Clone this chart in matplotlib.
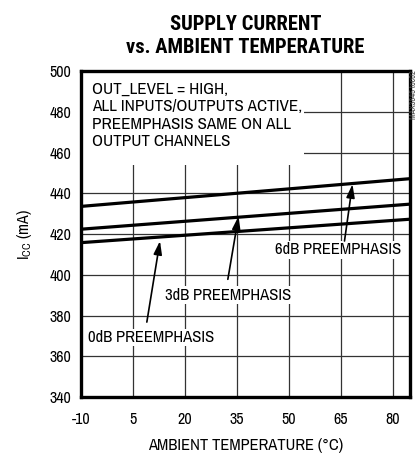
import matplotlib
matplotlib.use("Agg")
import matplotlib.pyplot as plt
from matplotlib.font_manager import fontManager

names = {f.name for f in fontManager.ttflist}


def pick(*cands):
    return [c for c in cands if c in names] + ['DejaVu Sans']


body_font = pick('Archivo Narrow', 'Liberation Sans Narrow', 'Roboto Condensed', 'Liberation Sans')
title_font = pick('Roboto Condensed', 'Fira Sans Condensed', 'Barlow Condensed', 'Archivo Narrow', 'Liberation Sans')
plt.rcParams['font.family'] = body_font
plt.rcParams['axes.unicode_minus'] = False

# Data (end points of the straight curves)
temp = [-10, 85]
icc_0db = [415.8, 427.3]
icc_3db = [422.4, 434.7]
icc_6db = [433.6, 447.2]

x_ticks = [-10, 5, 20, 35, 50, 65, 80]
y_ticks = [340, 360, 380, 400, 420, 440, 460, 480, 500]

fig = plt.figure(figsize=(4.2, 4.59), dpi=100)
ax = fig.add_axes([0.193, 0.135, 0.783, 0.710])

ax.set_xlim(-10, 85)
ax.set_ylim(340, 500)
ax.set_xticks(x_ticks)
ax.set_yticks(y_ticks)
ax.tick_params(axis='y', length=0, labelsize=11.5, pad=7)
ax.tick_params(axis='x', length=0, labelsize=11.5, pad=11)
ax.grid(True, color='#333333', linewidth=0.9)
ax.set_axisbelow(True)
for s in ax.spines.values():
    s.set_linewidth(2.4)

for y in (icc_0db, icc_3db, icc_6db):
    ax.plot(temp, y, color='black', linewidth=2.3, solid_capstyle='butt', zorder=3)

# white area behind the condition text
ax.fill_between([-10, 54.5], 454, 500, color='white', zorder=2, linewidth=0)
ax.text(-6.8, 495, 'OUT_LEVEL = HIGH,\nALL INPUTS/OUTPUTS ACTIVE,\nPREEMPHASIS SAME ON ALL\nOUTPUT CHANNELS',
        fontsize=12.3, va='top', ha='left', linespacing=1.22, zorder=4)

lbl = dict(fontsize=12, zorder=4,
           bbox=dict(facecolor='white', edgecolor='none', pad=1.0))
ax.text(-8, 369.3, '0dB PREEMPHASIS', ha='left', va='center', **lbl)
ax.text(14.2, 390.0, '3dB PREEMPHASIS', ha='left', va='center', **lbl)
ax.text(82.5, 412.3, '6dB PREEMPHASIS', ha='right', va='center', **lbl)

arrow = dict(arrowstyle='-|>,head_length=0.8,head_width=0.25', color='black',
             lw=1.2, shrinkA=0, shrinkB=0)
ax.annotate('', xy=(12.8, 416.6), xytext=(9.0, 376.8), arrowprops=arrow, zorder=5)
ax.annotate('', xy=(35.5, 428.8), xytext=(32.4, 397.8), arrowprops=arrow, zorder=5)
ax.annotate('', xy=(68.4, 444.5), xytext=(66.1, 416.6), arrowprops=arrow, zorder=5)

ax.set_xlabel('AMBIENT TEMPERATURE (\u00b0C)', fontsize=11.9, labelpad=8)
ax.set_ylabel('I$_{\\mathregular{CC}}$ (mA)', fontsize=11.5, labelpad=11)
ax.set_title('SUPPLY CURRENT\nvs. AMBIENT TEMPERATURE', fontsize=14.8, family=title_font,
             fontweight='bold', linespacing=1.3, pad=13)

fig.text(0.985, 0.848, 'MAX3845 toc02', rotation=90, fontsize=6,
         ha='center', va='top', color='#444444')

fig.savefig('out.png', dpi=100)
